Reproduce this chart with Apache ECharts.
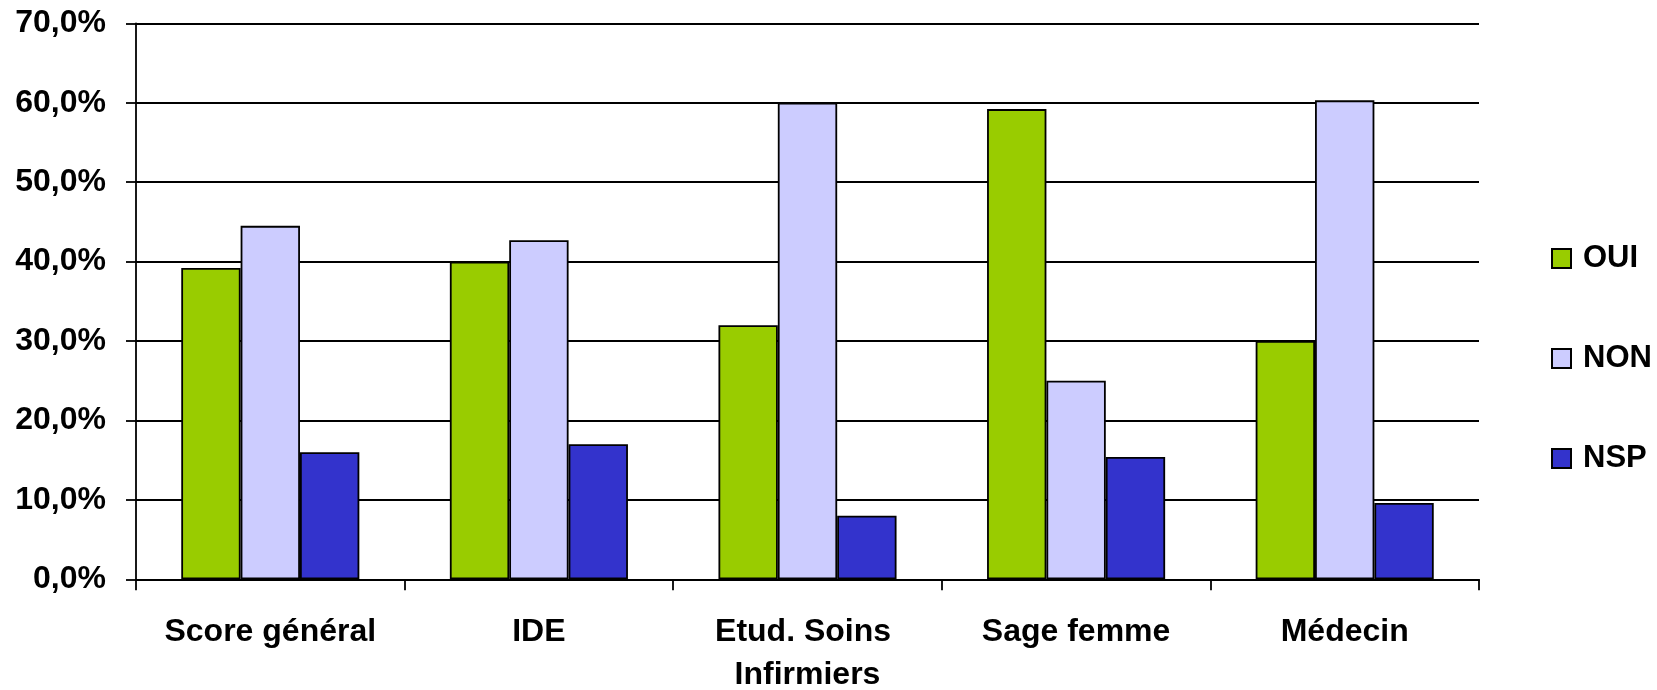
<!DOCTYPE html>
<html>
<head>
<meta charset="utf-8">
<script src="https://cdn.jsdelivr.net/npm/echarts@6/dist/echarts.min.js"></script>
<style>
  html, body { margin: 0; padding: 0; background: #fff; }
  #chart { width: 1657px; height: 690px; }
</style>
</head>
<body>
<div id="chart"></div>
<script>
  // categories and values (percent)
  var categories = ['Score général', 'IDE', 'Etud. Soins Infirmiers', 'Sage femme', 'Médecin'];
  var oui = [39.2, 40.0, 32.0, 59.2, 30.0];
  var non = [44.5, 42.7, 60.0, 25.0, 60.3];
  var nsp = [16.0, 17.0, 8.0, 15.4, 9.6];
  var yTicks = [0, 10, 20, 30, 40, 50, 60, 70];

  var font = '"Liberation Sans", Arial, sans-serif';

  function barSeries(name, data, color) {
    return {
      name: name,
      type: 'bar',
      data: data,
      barGap: '0%',
      barCategoryGap: '33.7%',
      itemStyle: {
        color: color,
        borderColor: '#000',
        borderWidth: 1.8
      }
    };
  }

  var myChart = echarts.init(document.getElementById('chart'));
  var option = {
    backgroundColor: '#fff',
    animation: false,
    textStyle: { fontFamily: font },
    grid: {
      left: 136,
      right: 178,
      top: 23.3,
      bottom: 110.7,
      containLabel: false,
      outerBoundsMode: 'none'
    },
    legend: {
      orient: 'vertical',
      left: 1546,
      top: 238,
      itemWidth: 19,
      itemHeight: 19,
      itemGap: 69,
      icon: 'rect',
      textStyle: {
        color: '#000',
        fontWeight: 'bold',
        fontSize: 31,
        fontFamily: font,
        padding: [0, 0, 0, 7]
      },
      data: ['OUI', 'NON', 'NSP']
    },
    xAxis: {
      type: 'category',
      data: categories,
      axisLine: { lineStyle: { color: '#000', width: 2 } },
      axisTick: { show: true, length: 11, lineStyle: { color: '#000', width: 1.8 } },
      axisLabel: {
        color: '#000',
        fontWeight: 'bold',
        fontSize: 32,
        fontFamily: font,
        margin: 31,
        lineHeight: 43,
        width: 262,
        overflow: 'break',
        interval: 0
      }
    },
    yAxis: {
      type: 'value',
      min: yTicks[0],
      max: yTicks[yTicks.length - 1],
      interval: 10,
      axisLine: { show: true, lineStyle: { color: '#000', width: 1.8 } },
      axisTick: { show: true, length: 10, lineStyle: { color: '#000', width: 1.8 } },
      splitLine: { show: true, lineStyle: { color: '#000', width: 1.8 } },
      axisLabel: {
        color: '#000',
        fontWeight: 'bold',
        fontSize: 32,
        fontFamily: font,
        margin: 30,
        formatter: function (v) {
          return v.toFixed(1).replace('.', ',') + '%';
        }
      }
    },
    series: [
      barSeries('OUI', oui, '#99CC00'),
      barSeries('NON', non, '#CCCCFF'),
      barSeries('NSP', nsp, '#3333CC')
    ]
  };
  myChart.setOption(option);
</script>
</body>
</html>
